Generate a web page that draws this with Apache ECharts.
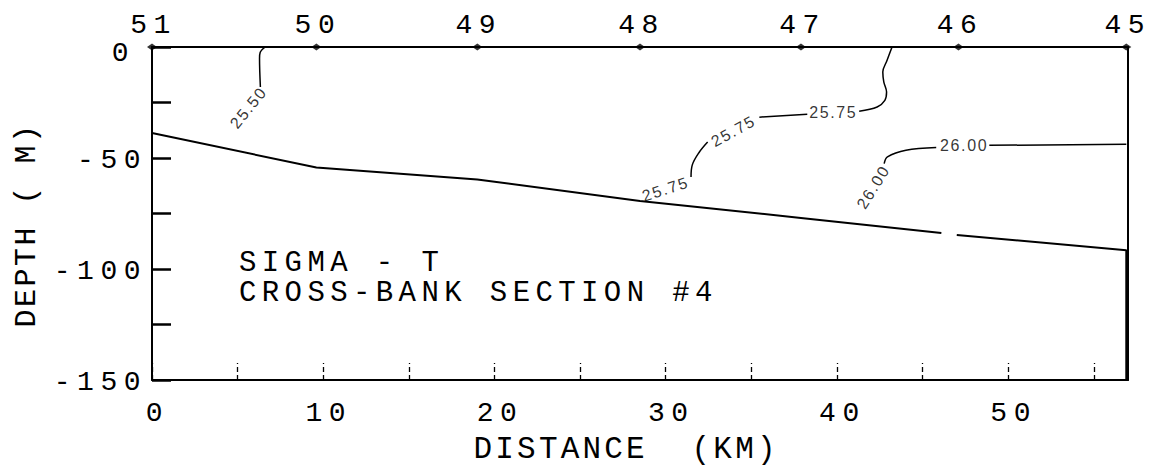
<!DOCTYPE html>
<html>
<head>
<meta charset="utf-8">
<script src="https://cdn.jsdelivr.net/npm/echarts@6/dist/echarts.min.js"></script>
<style>
html,body{margin:0;padding:0;background:#fff;}
#chart{width:1153px;height:469px;}
</style>
</head>
<body>
<div id="chart"></div>
<script>
// ---- data ----
const distanceLabels = [0, 10, 20, 30, 40, 50];
const depthLabels = [0, -50, -100, -150];
const stationKm = [0, 9.6, 19.0, 28.5, 37.9, 47.1, 56.9];
const stationNames = ['51', '50', '49', '48', '47', '46', '45'];

const bottomWest = [[0, -38.7], [9.6, -54.3], [19.0, -59.7], [28.5, -69.4], [37.9, -77.0], [46.1, -83.8]];
const bottomEast = [[47.0, -84.7], [56.9, -91.5], [56.9, -150]];

const contour2550 = [[6.61, 0], [6.32, -2.4], [6.28, -5.2], [6.33, -18.0]];
const contour2575a = [[43.22, 0], [42.93, -6.0], [42.68, -11.3], [42.74, -15.8], [42.9, -20.3], [42.8, -24.0], [42.35, -27.0], [41.3, -28.9]];
const contour2575b = [[38.27, -30.3], [35.47, -31.6]];
const contour2575c = [[32.45, -42.8], [31.96, -47.4], [31.55, -53.2], [31.48, -58.6]];
const contour2600a = [[56.9, -43.8], [48.9, -44.3]];
const contour2600b = [[45.8, -45.3], [44.03, -46.5], [42.95, -49.5], [42.76, -52.5]];

const contourLabelPos = [[5.63, -27.3], [39.78, -29.6], [33.95, -37.9], [29.98, -64.0], [47.43, -44.5], [42.12, -63.1]];
const contourLabelText = ['25.50', '25.75', '25.75', '25.75', '26.00', '26.00'];
const contourLabelAngle = [51, 0, 29, 18, 0, 58];

const xTitle = 'DISTANCE  (KM)';
const yTitle = 'DEPTH ( M)';
const noteLine1 = 'SIGMA - T';
const noteLine2 = 'CROSS-BANK SECTION #4';

// letter spacing (px) per font size, applied to the SVG text
const SPACING = {28: 6.5, 29: 5.4, 30: 2.5, 31: 3.2, 16: 1.6};
const MONO = '"Liberation Mono", "DejaVu Sans Mono", monospace';

const chart = echarts.init(document.getElementById('chart'), null, {renderer: 'svg'});

function lineSeries(data, width) {
  return {
    type: 'line', data: data, xAxisIndex: 0, yAxisIndex: 0,
    showSymbol: false, symbol: 'none', smooth: width < 2 ? 0.35 : false,
    lineStyle: {color: '#000', width: width}, silent: true, clip: false, z: 3
  };
}

const labelData = contourLabelPos.map((p, i) => ({
  value: p,
  label: {formatter: contourLabelText[i], rotate: contourLabelAngle[i]}
}));

const option = {
  animation: false,
  backgroundColor: '#fff',
  grid: {left: 152, right: 25, top: 47, bottom: 89, containLabel: false},
  xAxis: [
    {
      type: 'value', min: 0, max: 57, interval: 5, position: 'bottom',
      axisLine: {show: true, onZero: false, lineStyle: {color: '#000', width: 2}},
      axisTick: {show: true, inside: true, length: 17, lineStyle: {color: '#000', width: 1.3, type: [5, 3]}},
      axisLabel: {
        formatter: v => distanceLabels.includes(v) ? String(v) : '',
        margin: 19, padding: [0, 0, 0, 11], color: '#000', fontFamily: MONO, fontSize: 28,
        showMaxLabel: false
      },
      splitLine: {show: false}
    },
    {
      type: 'value', min: 0, max: 57, position: 'top',
      axisLine: {show: true, onZero: false, lineStyle: {color: '#000', width: 2}},
      axisTick: {show: false},
      axisLabel: {
        customValues: stationKm,
        formatter: v => stationNames[stationKm.indexOf(v)],
        margin: 8, padding: [0, 0, 0, 3], color: '#000', fontFamily: MONO, fontSize: 28
      },
      splitLine: {show: false}
    }
  ],
  yAxis: [
    {
      type: 'value', min: -150, max: 0, interval: 25, position: 'left',
      axisLine: {show: true, onZero: false, lineStyle: {color: '#000', width: 2}},
      axisTick: {show: true, inside: true, length: 19, lineStyle: {color: '#000', width: 2.5}},
      axisLabel: {
        formatter: v => v === 0 ? '{z|0}' : (depthLabels.includes(v) ? String(v) : ''),
        margin: 5, padding: [4, 0, 0, 0], color: '#000', fontFamily: MONO, fontSize: 28,
        rich: {z: {fontFamily: MONO, fontSize: 28, color: '#000', padding: [8, 12, 0, 0]}}
      },
      splitLine: {show: false}
    },
    {
      type: 'value', min: -150, max: 0, position: 'right',
      axisLine: {show: true, onZero: false, lineStyle: {color: '#000', width: 2}},
      axisTick: {show: false}, axisLabel: {show: false}, splitLine: {show: false}
    }
  ],
  series: [
    lineSeries(bottomWest, 2),
    lineSeries(bottomEast, 2),
    lineSeries(contour2550, 1.5),
    lineSeries(contour2575a, 1.5),
    lineSeries(contour2575b, 1.5),
    lineSeries(contour2575c, 1.5),
    lineSeries(contour2600a, 1.5),
    lineSeries(contour2600b, 1.5),
    {
      type: 'scatter', xAxisIndex: 0, yAxisIndex: 0, silent: true, clip: false, z: 5,
      data: stationKm.map(k => [k, 0]),
      symbol: 'diamond', symbolSize: [10, 7], itemStyle: {color: '#000'}
    },
    {
      type: 'scatter', xAxisIndex: 0, yAxisIndex: 0, silent: true, clip: false, z: 6,
      data: labelData, symbolSize: 1, itemStyle: {color: 'rgba(0,0,0,0)'},
      label: {show: true, position: 'inside', color: '#000',
        fontFamily: '"Liberation Sans", Arial, sans-serif', fontSize: 16}
    }
  ],
  graphic: [
    {type: 'text', x: 473.5, y: 449.5, silent: true,
      style: {text: xTitle, font: '31px ' + MONO, fill: '#000', textAlign: 'left', textVerticalAlign: 'middle'}},
    {type: 'text', x: 27, y: 225, rotation: Math.PI / 2, silent: true,
      style: {text: yTitle, font: '30px ' + MONO, fill: '#000', textAlign: 'center', textVerticalAlign: 'middle'}},
    {type: 'text', x: 239, y: 263.5, silent: true,
      style: {text: noteLine1, font: '29px ' + MONO, fill: '#000', textAlign: 'left', textVerticalAlign: 'middle'}},
    {type: 'text', x: 239, y: 293.5, silent: true,
      style: {text: noteLine2, font: '29px ' + MONO, fill: '#000', textAlign: 'left', textVerticalAlign: 'middle'}}
  ]
};

function applySpacing() {
  const svg = document.querySelector('#chart svg');
  if (!svg) return;
  svg.querySelectorAll('text').forEach(t => {
    const fs = Math.round(parseFloat(getComputedStyle(t).fontSize));
    if (SPACING[fs] != null) t.style.letterSpacing = SPACING[fs] + 'px';
  });
}

chart.on('rendered', applySpacing);
chart.on('finished', applySpacing);
chart.setOption(option);
applySpacing();
setTimeout(applySpacing, 50);
</script>
</body>
</html>
